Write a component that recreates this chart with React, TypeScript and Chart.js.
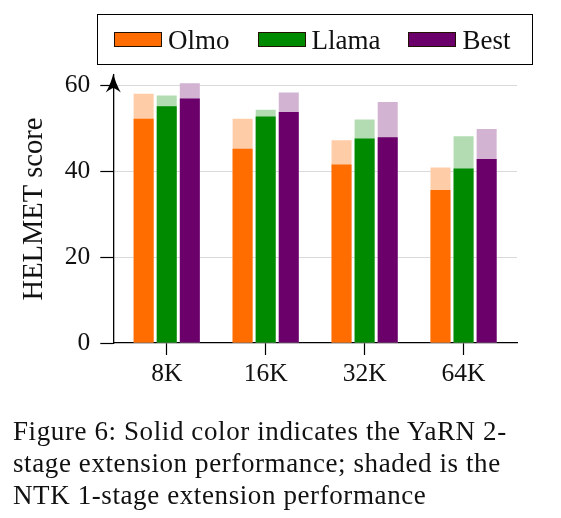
import React, { useEffect, useRef } from "react";
import { Chart, registerables, Plugin } from "chart.js";

Chart.register(...registerables);

// values (YaRN 2-stage = solid, NTK 1-stage = shaded)
const categories = ["8K", "16K", "32K", "64K"];
const olmoYarn = [52.3, 45.3, 41.6, 35.7];
const olmoNtk = [58.1, 52.3, 47.3, 40.9];
const llamaYarn = [55.2, 52.8, 47.7, 40.7];
const llamaNtk = [57.7, 54.4, 52.1, 48.2];
const bestYarn = [57.0, 53.9, 48.0, 42.9];
const bestNtk = [60.6, 58.4, 56.2, 49.9];
const yTicks = [0, 20, 40, 60];

const ORANGE = "#ff6d00";
const ORANGE_LIGHT = "#ffcca8";
const GREEN = "#008a00";
const GREEN_LIGHT = "#b3dcb3";
const PURPLE = "#6b006b";
const PURPLE_LIGHT = "#d2b3d2";

const FONT = "'Liberation Serif', 'DejaVu Serif', serif";
const TEXT = "#111";

const legendItems = [
  { label: "Olmo", color: ORANGE },
  { label: "Llama", color: GREEN },
  { label: "Best", color: PURPLE },
];

const toPoints = (values: number[]) => values.map((y, x) => ({ x, y }));

// latex-style arrow head on top of the y axis
const axisArrow: Plugin<"bar"> = {
  id: "axisArrow",
  afterDraw(chart) {
    const { ctx, chartArea } = chart;
    const x = chartArea.left;
    const y = chartArea.top - 1.5;
    ctx.save();
    ctx.fillStyle = "#000";
    ctx.beginPath();
    ctx.moveTo(x, y);
    ctx.quadraticCurveTo(x + 2, y + 9, x + 7.5, y + 19);
    ctx.quadraticCurveTo(x + 2.5, y + 15, x, y + 14.5);
    ctx.quadraticCurveTo(x - 2.5, y + 15, x - 7.5, y + 19);
    ctx.quadraticCurveTo(x - 2, y + 9, x, y);
    ctx.closePath();
    ctx.fill();
    ctx.restore();
  },
};

const HelmetChart: React.FC = () => {
  const canvasRef = useRef<HTMLCanvasElement | null>(null);

  useEffect(() => {
    const ctx = canvasRef.current?.getContext("2d");
    if (!ctx) return;

    const chart = new Chart(ctx, {
      type: "bar",
      data: {
        datasets: [
          { label: "Olmo", data: toPoints(olmoYarn), backgroundColor: ORANGE, stack: "olmo", order: 0 },
          { label: "Llama", data: toPoints(llamaYarn), backgroundColor: GREEN, stack: "llama", order: 0 },
          { label: "Best", data: toPoints(bestYarn), backgroundColor: PURPLE, stack: "best", order: 0 },
          { label: "Olmo NTK", data: toPoints(olmoNtk), backgroundColor: ORANGE_LIGHT, stack: "olmo", order: 1 },
          { label: "Llama NTK", data: toPoints(llamaNtk), backgroundColor: GREEN_LIGHT, stack: "llama", order: 1 },
          { label: "Best NTK", data: toPoints(bestNtk), backgroundColor: PURPLE_LIGHT, stack: "best", order: 1 },
        ],
      },
      options: {
        animation: false,
        responsive: true,
        maintainAspectRatio: false,
        layout: {
          padding: { left: 0, top: 75, right: 44, bottom: 135 },
        },
        datasets: {
          bar: {
            barPercentage: 0.867,
            categoryPercentage: 0.7,
            borderWidth: 0,
          },
        },
        plugins: {
          legend: { display: false },
          tooltip: { enabled: false },
        },
        scales: {
          x: {
            type: "linear",
            min: -0.54,
            max: 3.54,
            stacked: true, // shaded and solid bars share a slot
            offset: false,
            afterBuildTicks: (scale) => {
              scale.ticks = categories.map((_, i) => ({ value: i }));
            },
            afterFit: (scale) => {
              scale.height = 40;
            },
            ticks: {
              callback: (value) => categories[value as number] ?? "",
              font: { family: FONT, size: 25.5 },
              color: TEXT,
              padding: 4,
              maxRotation: 0,
              autoSkip: false,
            },
            grid: {
              drawOnChartArea: false,
              offset: false,
              tickLength: 12,
              tickColor: "#000",
              tickWidth: 1.2,
            },
            border: { color: "#000", width: 1.3 },
          },
          y: {
            min: 0,
            max: 62.5,
            stacked: false,
            afterBuildTicks: (scale) => {
              scale.ticks = yTicks.map((v) => ({ value: v }));
            },
            afterFit: (scale) => {
              scale.width = 113.3;
            },
            ticks: {
              font: { family: FONT, size: 25.5 },
              color: TEXT,
              padding: 10,
            },
            grid: {
              color: (c) => (c.tick && c.tick.value === 0 ? "rgba(0,0,0,0)" : "#dadada"),
              lineWidth: 1,
              tickColor: "#000",
              tickLength: 13,
              tickWidth: 1.2,
            },
            border: { color: "#000", width: 1.3 },
            title: {
              display: true,
              text: "HELMET score",
              font: { family: FONT, size: 28.5 },
              color: TEXT,
              padding: { top: 17, bottom: 0 },
            },
          },
        },
      },
      plugins: [axisArrow],
    });

    return () => {
      chart.destroy();
    };
  }, []);

  return (
    <div style={{ position: "absolute", left: 0, top: 0, width: 561, height: 518, background: "#fff" }}>
      <canvas ref={canvasRef} />
      <div
        style={{
          position: "absolute",
          left: 97,
          top: 14,
          width: 436,
          height: 51,
          boxSizing: "border-box",
          border: "1.6px solid #000",
          display: "flex",
          alignItems: "center",
          paddingLeft: 16,
          gap: 28,
          fontFamily: FONT,
          fontSize: 27,
          color: TEXT,
        }}
      >
        {legendItems.map((item) => (
          <div key={item.label} style={{ display: "flex", alignItems: "center", gap: 6 }}>
            <span
              style={{
                display: "inline-block",
                width: 48,
                height: 15,
                boxSizing: "border-box",
                background: item.color,
                border: "1px solid #221100",
              }}
            />
            <span style={{ lineHeight: "30px" }}>{item.label}</span>
          </div>
        ))}
      </div>
      <div
        style={{
          position: "absolute",
          left: 13,
          top: 415,
          fontFamily: FONT,
          fontSize: 27,
          letterSpacing: 0.6,
          lineHeight: "32px",
          color: TEXT,
          whiteSpace: "nowrap",
        }}
      >
        Figure 6: Solid color indicates the YaRN 2-
        <br />
        stage extension performance; shaded is the
        <br />
        NTK 1-stage extension performance
      </div>
    </div>
  );
};

export default function App() {
  return <HelmetChart />;
}
